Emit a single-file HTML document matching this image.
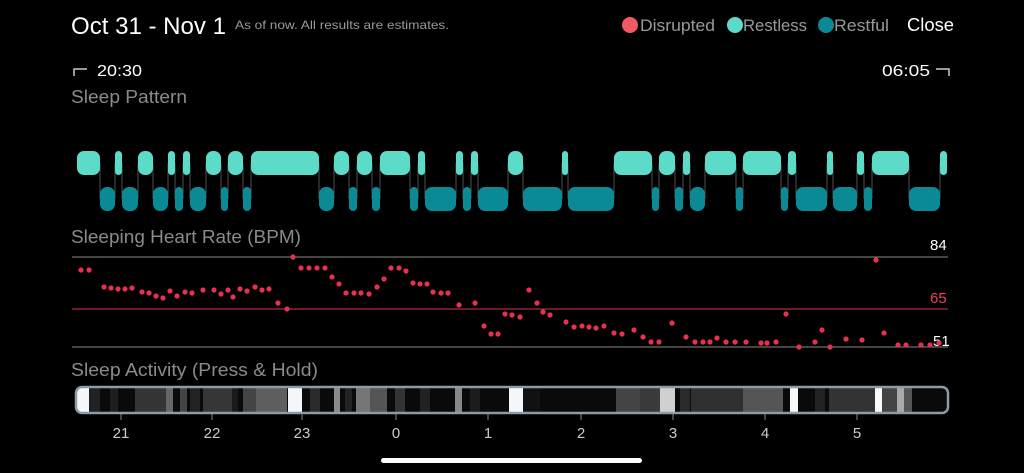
<!DOCTYPE html>
<html><head><style>
html,body{margin:0;padding:0;background:#000;}
svg{display:block;}
text{font-family:"Liberation Sans",sans-serif;}
</style></head><body>
<svg width="1024" height="473" viewBox="0 0 1024 473" xmlns="http://www.w3.org/2000/svg">
<rect width="1024" height="473" fill="#000"/>
<text x="71" y="34" font-size="24" fill="#fff" textLength="155" lengthAdjust="spacingAndGlyphs">Oct 31 - Nov 1</text>
<text x="235" y="29" font-size="12" fill="#999" textLength="214" lengthAdjust="spacingAndGlyphs">As of now. All results are estimates.</text>
<circle cx="630" cy="25" r="8" fill="#f05a64"/>
<text x="640" y="31" font-size="17" fill="#999" textLength="75" lengthAdjust="spacingAndGlyphs">Disrupted</text>
<circle cx="735" cy="25" r="8" fill="#5cdcc8"/>
<text x="743" y="31" font-size="17" fill="#999" textLength="64" lengthAdjust="spacingAndGlyphs">Restless</text>
<circle cx="826" cy="25" r="8" fill="#0b8a96"/>
<text x="834" y="31" font-size="17" fill="#999" textLength="55" lengthAdjust="spacingAndGlyphs">Restful</text>
<text x="907" y="31" font-size="18" fill="#fff" textLength="47" lengthAdjust="spacingAndGlyphs">Close</text>
<path d="M74 76 V69 H87" stroke="#ccc" stroke-width="1.5" fill="none"/>
<text x="97" y="76" font-size="16" fill="#fff" textLength="45" lengthAdjust="spacingAndGlyphs">20:30</text>
<text x="882" y="76" font-size="16" fill="#fff" textLength="48" lengthAdjust="spacingAndGlyphs">06:05</text>
<path d="M936 69 H949 V76" stroke="#ccc" stroke-width="1.5" fill="none"/>
<text x="71" y="103" font-size="18" fill="#8a8a8a" textLength="116" lengthAdjust="spacingAndGlyphs">Sleep Pattern</text>
<g id="sp"></g>
<text x="71" y="243" font-size="18" fill="#8a8a8a" textLength="230" lengthAdjust="spacingAndGlyphs">Sleeping Heart Rate (BPM)</text>
<line x1="72" y1="257" x2="948" y2="257" stroke="#888" stroke-width="1"/>
<line x1="72" y1="309" x2="948" y2="309" stroke="#d8344f" stroke-width="1"/>
<line x1="72" y1="347" x2="948" y2="347" stroke="#888" stroke-width="1"/>
<text x="930" y="250" font-size="15" fill="#fff">84</text>
<text x="930" y="303" font-size="15" fill="#f04060">65</text>
<text x="933" y="346" font-size="15" fill="#fff">51</text>
<g id="hr" fill="#e8304f"></g>
<text x="71" y="376" font-size="18" fill="#8a8a8a" textLength="247" lengthAdjust="spacingAndGlyphs">Sleep Activity (Press &amp; Hold)</text>
<defs><clipPath id="bc"><rect x="76" y="387" width="872" height="26" rx="6"/></clipPath></defs>
<g clip-path="url(#bc)"><rect x="76" y="387" width="872" height="26" fill="#0a0a0a"/><g id="act"></g></g>
<rect x="76" y="387" width="872" height="26" rx="6" fill="none" stroke="#8a9cac" stroke-width="2.5"/>
<g id="ticks" stroke="#888"></g>
<g font-size="15" fill="#ccc" text-anchor="middle">
<text x="121" y="438">21</text><text x="212" y="438">22</text><text x="302" y="438">23</text><text x="396" y="438">0</text><text x="488" y="438">1</text><text x="581" y="438">2</text><text x="673" y="438">3</text><text x="765" y="438">4</text><text x="857" y="438">5</text>
</g>
<rect x="381" y="458" width="261" height="5" rx="2.5" fill="#fff"/>
</svg>
<script>
const NS="http://www.w3.org/2000/svg";
function el(p,t,a){const e=document.createElementNS(NS,t);for(const k in a)e.setAttribute(k,a[k]);p.appendChild(e);return e;}
const b=[77,100,115,122,138,153,168,175,183,190,206,221,228,243,251,319,334,349,357,372,380,410,418,425,456,463,471,478,508,523,562,568,614,652,659,675,683,690,705,736,743,781,788,796,827,833,857,864,872,909,940,947];
const sp=document.getElementById('sp');
for(let i=0;i<b.length-1;i++){
 const top=i%2==0;const x=b[i],w=b[i+1]-b[i];
 if(i>0) el(sp,'line',{x1:x,y1:163,x2:x,y2:199,stroke:'#444','stroke-width':1.2});
}
for(let i=0;i<b.length-1;i++){
 const top=i%2==0;const x=b[i],w=b[i+1]-b[i];
 el(sp,'rect',{x:x,y:top?151:187,width:w,height:24,rx:Math.min(7,w/2),fill:top?'#5cdcc8':'#0b8a96'});
}
const hr=[[81,270],[89,270],[104,287],[111,288],[118,289],[125,289],[132,288],[142,292],[149,293],[156,296],[163,298],[170,291],[177,296],[185,292],[192,293],[203,290],[214,290],[221,294],[228,290],[233,297],[240,289],[247,291],[255,287],[262,290],[269,289],[278,303],[287,309],[293,257],[301,268],[309,268],[317,268],[325,268],[332,277],[339,284],[346,293],[354,293],[361,293],[369,294],[377,287],[384,279],[391,268],[399,268],[406,271],[413,283],[420,284],[427,284],[433,292],[441,293],[448,293],[459,305],[475,303],[484,326],[491,334],[498,334],[505,314],[512,315],[520,317],[529,290],[537,303],[543,312],[550,315],[566,322],[574,327],[582,326],[589,327],[596,328],[604,326],[614,333],[622,334],[634,330],[643,337],[651,342],[659,342],[672,323],[686,337],[695,342],[703,342],[710,342],[717,338],[726,342],[735,342],[746,342],[761,343],[767,343],[776,342],[786,314],[799,347],[815,342],[822,330],[830,347],[846,339],[862,340],[876,260],[884,333],[898,345],[906,345],[921,345],[930,345],[939,343]];
const g=document.getElementById('hr');
hr.forEach(p=>el(g,'circle',{cx:p[0],cy:p[1],r:2.6}));
const act=[[76,89,'#f4f8fa'],[89,100,'#222'],[110,118,'#1e1e1e'],[135,166,'#353535'],[166,173,'#666'],[180,187,'#444'],[190,200,'#222'],[203,232,'#363636'],[232,238,'#1a1a1a'],[243,256,'#444'],[256,287,'#5e5e5e'],[288,302,'#f4f6f8'],[310,320,'#2a2a2a'],[334,340,'#8a8a8a'],[345,352,'#222'],[356,370,'#777'],[370,387,'#555'],[395,405,'#333'],[420,430,'#222'],[455,462,'#888'],[470,480,'#1c1c1c'],[509,523,'#f4f6f8'],[523,540,'#111'],[616,640,'#444'],[640,660,'#3a3a3a'],[660,675,'#d0d0d0'],[680,690,'#2a2a2a'],[691,743,'#303030'],[743,783,'#555'],[790,798,'#f8f8f8'],[815,825,'#222'],[829,875,'#333'],[875,882,'#fafafa'],[882,897,'#444'],[897,904,'#aaa'],[904,912,'#555']];
const a=document.getElementById('act');
act.forEach(s=>el(a,'rect',{x:s[0],y:387,width:s[1]-s[0],height:26,fill:s[2]}));
const t=document.getElementById('ticks');
[121,212,302,396,488,581,673,765,857].forEach(x=>el(t,'line',{x1:x,y1:414,x2:x,y2:420,'stroke-width':1}));
</script>
</body></html>
